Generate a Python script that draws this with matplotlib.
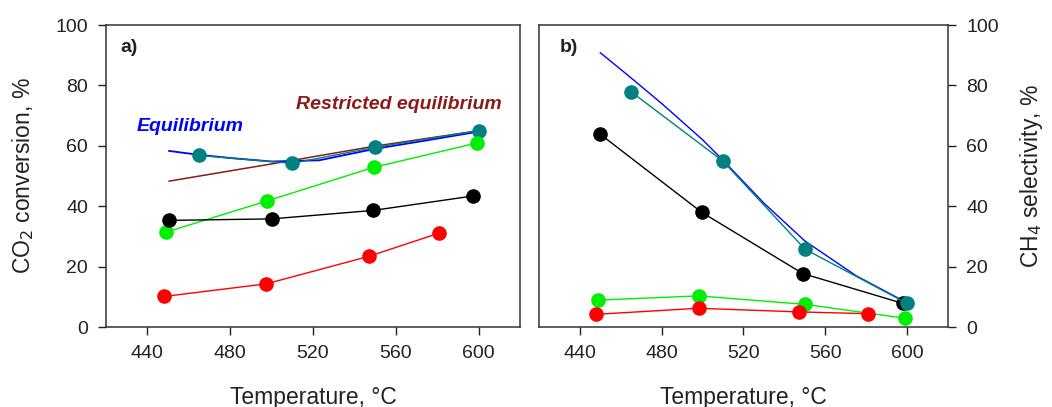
import numpy as np
import matplotlib
matplotlib.use("Agg")
import matplotlib.pyplot as plt

plt.rcParams['font.family'] = ['Liberation Sans', 'DejaVu Sans']

# ---- panel a) CO2 conversion ----
a_teal_t = [465, 510, 550, 600]
a_teal_y = [56.8, 54.2, 59.5, 65.0]
a_green_t = [449, 498, 549.5, 599]
a_green_y = [31.4, 41.8, 52.9, 60.9]
a_black_t = [450.5, 500, 549, 597.5]
a_black_y = [35.3, 35.8, 38.6, 43.4]
a_red_t = [448, 497.5, 547, 581]
a_red_y = [10.1, 14.3, 23.4, 31.1]
a_eq_t = [450.5, 465, 481, 500, 523, 550, 575, 600]
a_eq_y = [58.3, 57.0, 55.9, 54.8, 55.2, 59.0, 61.8, 64.7]
a_req_t = [450.5, 500, 550, 600]
a_req_y = [48.3, 54.0, 59.9, 65.0]

# ---- panel b) CH4 selectivity ----
b_teal_t = [465, 510, 550, 600]
b_teal_y = [77.9, 54.9, 25.8, 7.8]
b_black_t = [450, 499.5, 549, 598]
b_black_y = [63.8, 38.0, 17.7, 7.8]
b_green_t = [449, 498, 550, 599]
b_green_y = [8.9, 10.3, 7.5, 2.9]
b_red_t = [448, 498, 547, 581]
b_red_y = [4.2, 6.2, 5.0, 4.4]
b_eq_t = [450, 465, 480, 500, 510, 530, 550, 575, 600]
b_eq_y = [90.8, 82.5, 74.0, 62.0, 55.2, 41.0, 28.5, 17.0, 8.0]

xticks = [440, 480, 520, 560, 600]
yticks = [0, 20, 40, 60, 80, 100]

teal = '#008080'
green = '#00ee00'
red = '#ff0000'
blue = '#0000ff'
brown = '#8b1a1a'
txt = '#222222'

fig = plt.figure(figsize=(10.52, 4.07), dpi=100)
ax1 = fig.add_axes([106/1052, 1-327/407, 414/1052, 302/407])
ax2 = fig.add_axes([539/1052, 1-327/407, 409/1052, 302/407])

ms = 9.5
ax1.plot(a_req_t, a_req_y, color=brown, lw=1.1)
ax1.plot(a_eq_t, a_eq_y, color=blue, lw=1.3)
ax1.plot(a_teal_t, a_teal_y, color=teal, lw=1, marker='o', ms=ms)
ax1.plot(a_green_t, a_green_y, color=green, lw=1, marker='o', ms=ms)
ax1.plot(a_black_t, a_black_y, color='black', lw=1, marker='o', ms=ms)
ax1.plot(a_red_t, a_red_y, color=red, lw=1, marker='o', ms=ms)

ax2.plot(b_eq_t, b_eq_y, color=blue, lw=1)
ax2.plot(b_black_t, b_black_y, color='black', lw=1, marker='o', ms=ms)
ax2.plot(b_teal_t, b_teal_y, color=teal, lw=1, marker='o', ms=ms)
ax2.plot(b_green_t, b_green_y, color=green, lw=1, marker='o', ms=ms)
ax2.plot(b_red_t, b_red_y, color=red, lw=1, marker='o', ms=ms)

for ax in (ax1, ax2):
    ax.set_xlim(420, 620)
    ax.set_ylim(0, 100)
    ax.set_xticks(xticks)
    ax.set_yticks(yticks)
    ax.tick_params(direction='out', length=6, width=1, labelsize=14,
                   colors=txt, pad=7)
    for s in ax.spines.values():
        s.set_linewidth(1.1)
        s.set_color('#333333')
    ax.set_xlabel('Temperature, °C', fontsize=16.5, color=txt)
    ax.xaxis.set_label_coords(0.5, -0.195)

ax1.set_ylabel('CO$_2$ conversion, %', fontsize=16.5, color=txt)
ax1.yaxis.set_label_coords(-0.17, 0.5)

ax2.yaxis.tick_right()
ax2.yaxis.set_label_position('right')
ax2.set_ylabel('CH$_4$ selectivity, %', fontsize=16.5, color=txt)
ax2.yaxis.set_label_coords(1.17, 0.5)

ax1.text(427, 92.5, 'a)', fontsize=14, fontweight='bold', color=txt, va='center')
ax2.text(430, 92.5, 'b)', fontsize=14, fontweight='bold', color=txt, va='center')
ax1.text(435, 66.5, 'Equilibrium', fontsize=14, fontstyle='italic',
         fontweight='bold', color=blue, va='center')
ax1.text(611, 73.8, 'Restricted equilibrium', fontsize=14, fontstyle='italic',
         fontweight='bold', color=brown, va='center', ha='right')

fig.savefig('out.png', dpi=100)
